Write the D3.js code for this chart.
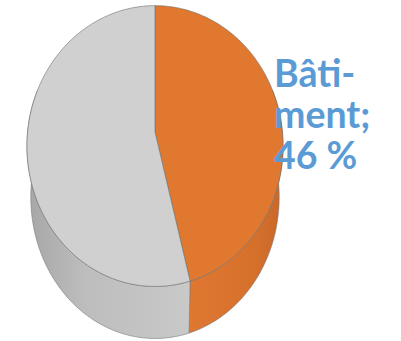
<!DOCTYPE html>
<html>
<head>
<meta charset="utf-8">
<script src="https://cdn.jsdelivr.net/npm/d3@7"></script>
<style>
  body { margin: 0; background: #fff; }
  svg { display: block; }
</style>
</head>
<body>
<svg id="chart" width="401" height="341"></svg>
<script>
const categories = ['Bâtiment', 'Autres'];
const values = [46, 54];
const topColors = ['#E0782F', '#D0D0D0'];
const labelLines = ['Bâti-', 'ment;', '46 %'];

const svg = d3.select('#chart');
const width = 401, height = 341;

// pseudo-perspective ellipse
const cx = 155, cy = 132;
const rx = 127.4, ry = 139;
const k = 0.1;          // perspective strength
const depth = 51;       // side height
const bottomScale = 0.97;

function project(theta, level) {
    const X = Math.sin(theta);
    const Y = -Math.cos(theta);
    const w = 1 / (1 - k * Y);
    const s = level ? bottomScale : 1;
    return [cx + rx * s * X * w, cy + ry * s * Y * w + (level ? depth * w : 0)];
}

const pie = d3.pie().sort(null).value(d => d)(values);

function arcPoints(a0, a1, level) {
    const n = Math.max(2, Math.ceil(Math.abs(a1 - a0) / 0.02));
    return d3.range(n + 1).map(i => project(a0 + (a1 - a0) * i / n, level));
}

const line = d3.line();

// gradients for the sides
const defs = svg.append('defs');
const gGrad = defs.append('linearGradient').attr('id', 'side-gray')
    .attr('gradientUnits', 'userSpaceOnUse')
    .attr('x1', 27).attr('x2', 191).attr('y1', 0).attr('y2', 0);
gGrad.append('stop').attr('offset', '0%').attr('stop-color', '#A6A6A6');
gGrad.append('stop').attr('offset', '35%').attr('stop-color', '#BDBDBD');
gGrad.append('stop').attr('offset', '100%').attr('stop-color', '#C9C9C9');
const oGrad = defs.append('linearGradient').attr('id', 'side-orange')
    .attr('gradientUnits', 'userSpaceOnUse')
    .attr('x1', 191).attr('x2', 284).attr('y1', 0).attr('y2', 0);
oGrad.append('stop').attr('offset', '0%').attr('stop-color', '#DF7731');
oGrad.append('stop').attr('offset', '70%').attr('stop-color', '#D5702B');
oGrad.append('stop').attr('offset', '100%').attr('stop-color', '#C7672A');
const sideFills = ['url(#side-orange)', 'url(#side-gray)'];

// visible front part of the wall
const frontStart = Math.PI * 0.4, frontEnd = Math.PI * 1.6;

pie.forEach((d, i) => {
    const a0 = Math.max(d.startAngle, frontStart);
    const a1 = Math.min(d.endAngle, frontEnd);
    if (a1 <= a0) return;
    const pts = arcPoints(a0, a1, 0).concat(arcPoints(a1, a0, 1));
    svg.append('path')
        .attr('d', line(pts) + 'Z')
        .attr('fill', sideFills[i])
        .attr('stroke', '#7a7a7a')
        .attr('stroke-width', 0.6)
        .attr('stroke-linejoin', 'round');
});

// top faces
pie.forEach((d, i) => {
    const pts = [[cx, cy]].concat(arcPoints(d.startAngle, d.endAngle, 0));
    svg.append('path')
        .attr('d', line(pts) + 'Z')
        .attr('fill', topColors[i])
        .attr('stroke', '#6e6e6e')
        .attr('stroke-width', 0.6)
        .attr('stroke-linejoin', 'round');
});

// data label, one text per line
svg.append('g')
    .selectAll('text')
    .data(labelLines)
    .join('text')
    .attr('x', 274)
    .attr('y', (d, i) => 87 + i * 41)
    .attr('font-family', 'Lato, "Open Sans", sans-serif')
    .attr('font-weight', 'bold')
    .attr('font-size', 37.5)
    .attr('fill', '#5B9BD5')
    .text(d => d);
</script>
</body>
</html>
